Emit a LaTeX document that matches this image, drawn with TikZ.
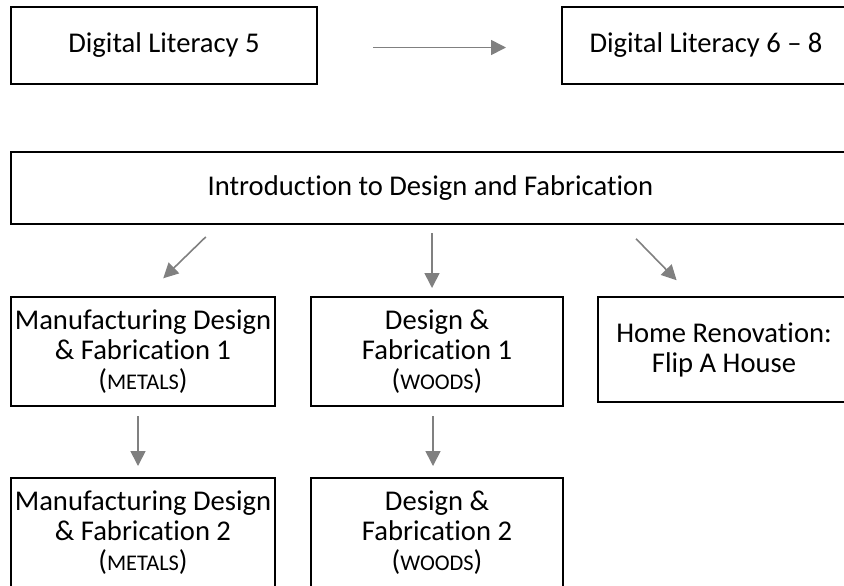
\documentclass[tikz,border=0pt]{standalone}
\usepackage{fontspec}
\setmainfont{Carlito}[Ligatures={NoCommon}]
\usetikzlibrary{arrows.meta}
\newcommand{\smc}[1]{{\fontsize{11.2}{15}\selectfont #1}}

\begin{document}
\begin{tikzpicture}[x=0.5pt,y=-0.5pt,
  course/.style={draw,line width=1pt,align=center,inner sep=0pt,font=\fontsize{14.3}{15}\selectfont},
  arr/.style={draw=black!50,line width=0.8pt,-{Triangle[length=7.5pt,width=7.5pt]}}]
\useasboundingbox (0,0) rectangle (844,585);
\node[course,minimum width=153pt,minimum height=38.5pt] (lit5)at(164,45.5){Digital Literacy 5};
\node[course,minimum width=144pt,minimum height=38.5pt] (lit68)at(706,45.5){Digital Literacy 6 -- 8};
\node[course,minimum width=419.5pt,minimum height=36pt] (intro)at(430.5,188){Introduction to Design and Fabrication};
\node[course,minimum width=132pt,minimum height=54.5pt] (mdf1)at(143,351.5){Manufacturing Design\\\& Fabrication 1\\(\smc{METALS})};
\node[course,minimum width=126pt,minimum height=54.5pt] (df1)at(437,351.5){Design \&\\Fabrication 1\\(\smc{WOODS})};
\node[course,minimum width=126pt,minimum height=52.5pt] (home)at(724,349.5){Home Renovation:\\Flip A House};
\node[course,minimum width=132pt,minimum height=54.5pt] (mdf2)at(143,532.5){Manufacturing Design\\\& Fabrication 2\\(\smc{METALS})};
\node[course,minimum width=126pt,minimum height=54.5pt] (df2)at(437,532.5){Design \&\\Fabrication 2\\(\smc{WOODS})};
\draw[arr,shorten <=27.5pt,shorten >=27.5pt] ([yshift=-1pt]lit5.east) -- ([yshift=-1pt]lit68.west);
\draw[arr,shorten <=8.5pt,shorten >=12.7pt] ([xshift=104pt]intro.south west) -- ([xshift=67.5pt]mdf1.north west);
\draw[arr,shorten <=4pt,shorten >=4pt] ([xshift=-2.5pt]df1.north |- intro.south) -- ([xshift=-2.5pt]df1.north);
\draw[arr,shorten <=9.6pt,shorten >=11pt] ([xshift=306.3pt]intro.south west) -- ([xshift=47.5pt]home.north west);
\draw[arr,shorten <=4.5pt,shorten >=5.5pt] ([xshift=-2.5pt]mdf1.south) -- ([xshift=-2.5pt]mdf2.north);
\draw[arr,shorten <=4.5pt,shorten >=5.5pt] ([xshift=-2pt]df1.south) -- ([xshift=-2pt]df2.north);
\end{tikzpicture}
\end{document}
